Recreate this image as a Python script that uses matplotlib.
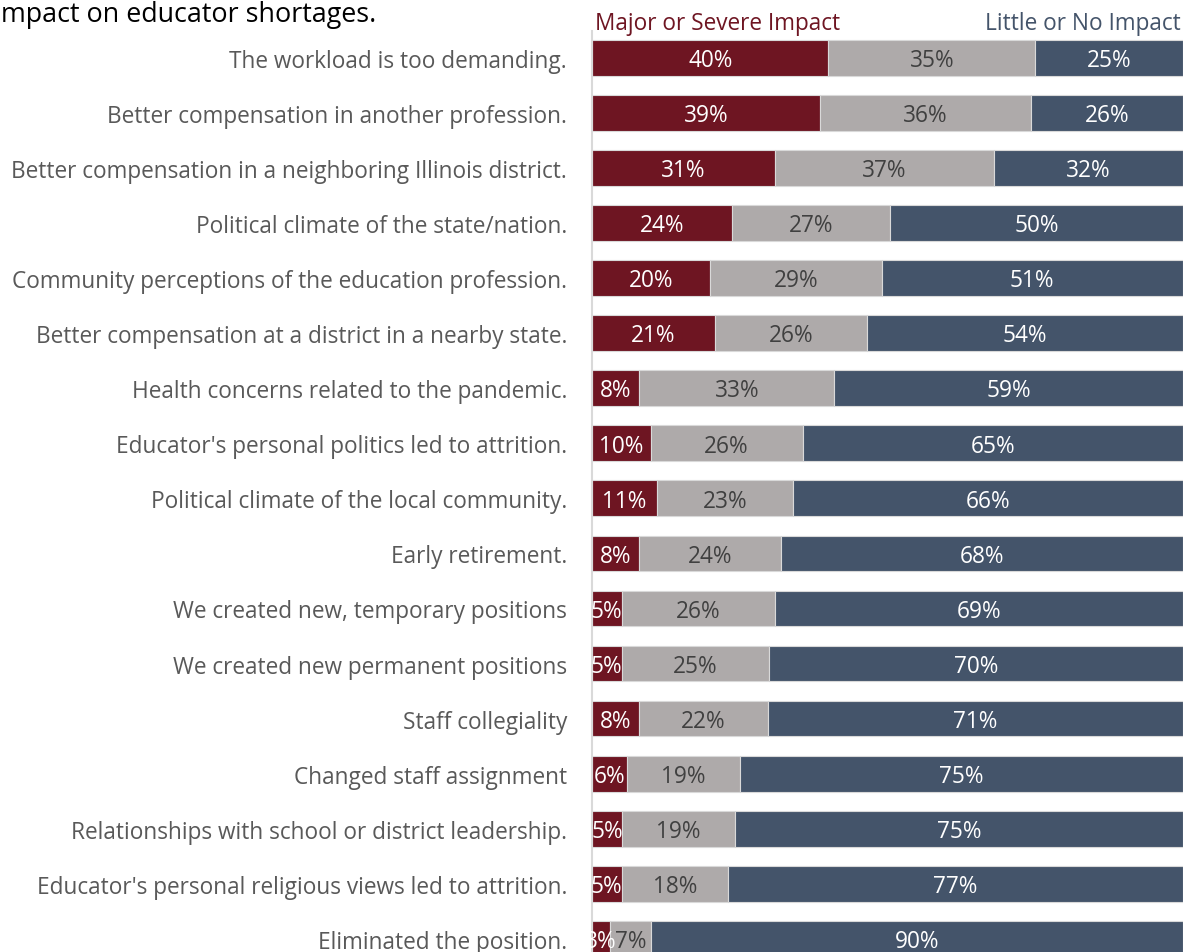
"""Stacked impact bars for educator shortage reasons."""

import numpy as np
import matplotlib.pyplot as plt

plt.rcParams["font.family"] = ["Open Sans", "DejaVu Sans"]

# survey items, top to bottom
reasons = [
    "The workload is too demanding.",
    "Better compensation in another profession.",
    "Better compensation in a neighboring Illinois district.",
    "Political climate of the state/nation.",
    "Community perceptions of the education profession.",
    "Better compensation at a district in a nearby state.",
    "Health concerns related to the pandemic.",
    "Educator's personal politics led to attrition.",
    "Political climate of the local community.",
    "Early retirement.",
    "We created new, temporary positions",
    "We created new permanent positions",
    "Staff collegiality",
    "Changed staff assignment",
    "Relationships with school or district leadership.",
    "Educator's personal religious views led to attrition.",
    "Eliminated the position.",
]
major = [40, 39, 31, 24, 20, 21, 8, 10, 11, 8, 5, 5, 8, 6, 5, 5, 3]
moderate = [35, 36, 37, 27, 29, 26, 33, 26, 23, 24, 26, 25, 22, 19, 19, 18, 7]
little = [25, 26, 32, 50, 51, 54, 59, 65, 66, 68, 69, 70, 71, 75, 75, 77, 90]

RED = "#6E1522"
GRAY = "#AEAAAA"
BLUE = "#44546A"

major = np.array(major, dtype=float)
moderate = np.array(moderate, dtype=float)
little = np.array(little, dtype=float)
total = major + moderate + little
y = np.arange(len(reasons))

fig = plt.figure(figsize=(11.87, 9.53), dpi=100)
ax = fig.add_axes([592 / 1187, 0.0, 591 / 1187, 1 - 32 / 953])

left = np.zeros(len(reasons))
segments = [(major, RED, "white"), (moderate, GRAY, "#404040"), (little, BLUE, "white")]
for vals, color, tcolor in segments:
    share = vals / total
    ax.barh(y, share, left=left, height=0.65, color=color,
            edgecolor="#D9D9D9", linewidth=0.8)
    for yi, l, s, v in zip(y, left, share, vals):
        ax.text(l + s / 2, yi + 0.04, f"{v:.0f}%", ha="center", va="center",
                color=tcolor, fontsize=16.3)
    left = left + share

ax.set_xlim(0, 1)
ax.set_ylim(16.24, -0.49)
ax.set_xticks([])
ax.set_yticks(y)
ax.set_yticklabels(reasons, fontsize=16.3, color="#595959")
ax.tick_params(axis="y", length=0, pad=18)
for side in ["top", "right", "bottom"]:
    ax.spines[side].set_visible(False)
ax.spines["left"].set_color("#D9D9D9")
ax.spines["left"].set_linewidth(1.5)

fig.text(595 / 1187, 1 - 30 / 953, "Major or Severe Impact", color=RED,
         fontsize=16.3, ha="left", va="baseline")
fig.text(1181 / 1187, 1 - 30 / 953, "Little or No Impact", color=BLUE,
         fontsize=16.3, ha="right", va="baseline")
# the title's first letter is clipped off in the source image
fig.text(1 / 1187, 1 - 22 / 953, "mpact on educator shortages.", color="black",
         fontsize=19.4, ha="left", va="baseline")

fig.savefig("out.png", dpi=100)
